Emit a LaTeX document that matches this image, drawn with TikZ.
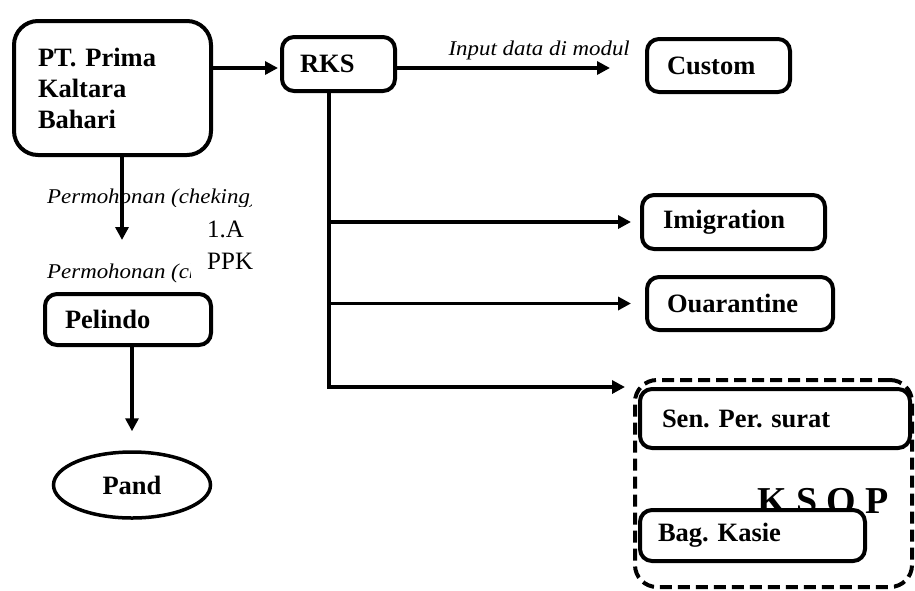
\documentclass[tikz,border=0pt]{standalone}
\usepackage{fontspec}
\setmainfont{Liberation Serif}
\newfontfamily\labelfont[FakeStretch=1.09]{Liberation Serif}
\usetikzlibrary{arrows.meta,shapes.geometric}
\frenchspacing
\tikzset{
  box/.style={draw,line width=4pt,rounded corners=12pt,align=left,
    font=\bfseries\fontsize{26.5}{31}\selectfont},
  group/.style={draw,dash pattern=on 12pt off 6pt,line width=4pt,
    rounded corners=22pt},
  flow/.style={line width=3.5pt,->},
  note/.style={inner sep=0pt,font=\labelfont\itshape\fontsize{21}{24}\selectfont}
}

\begin{document}
\begin{tikzpicture}[x=1pt,y=-1pt,>={Triangle[length=13pt,width=13pt]}]
\path[use as bounding box] (0,0) rectangle (915,590);
% left column
\node[box,rounded corners=24pt,text width=149pt,inner xsep=24pt,
  minimum height=134pt] (pt) at (112.5,88) {PT. Prima\\Kaltara\\Bahari};
\node[box,text width=126pt,inner xsep=20pt,minimum height=51pt]
  (pelindo) at (128,319.5) {Pelindo};
\node[draw,ellipse,line width=3.5pt,minimum width=157pt,minimum height=66pt,
  font=\bfseries\fontsize{26.5}{31}\selectfont] (pand) at (132,485) {Pand};
\begin{scope}
\clip (40,180) rectangle (251,206);
\node[note,anchor=base west] (req1) at (47,203) {Permohonan (cheking)};
\end{scope}
\begin{scope}
\clip (40,255) rectangle (190,290);
\node[note,anchor=base west] (req2) at (47,278) {Permohonan (che};
\end{scope}
\node[anchor=north west,inner sep=0pt,align=left,
  font=\fontsize{25}{32}\selectfont] (ppk) at (207,221) {1.A\\PPK};
% right column
\node[box,text width=77pt,inner xsep=18pt,minimum height=54pt]
  (rks) at (338.5,64) {RKS};
\node[box,text width=103pt,inner xsep=20pt,minimum height=53pt]
  (custom) at (718.5,65.5) {Custom};
\node[box,text width=141pt,inner xsep=21pt,minimum height=54pt]
  (imig) at (733.5,222) {Imigration};
\node[box,text width=146pt,inner xsep=20pt,minimum height=53pt]
  (quar) at (740,303.5) {Ouarantine};
\node[group,minimum width=277pt,minimum height=207pt] (ksop) at (773.5,483.5) {};
\node[font=\bfseries\fontsize{38}{40}\selectfont,anchor=base west,inner sep=0pt]
  (ksoplbl) at (757,513) {K S O P};
\node[box,fill=white,text width=226pt,inner xsep=22pt,minimum height=59pt]
  (sen) at (775,418.5) {Sen. Per. surat};
\node[box,fill=white,text width=189pt,inner xsep=18pt,minimum height=51pt]
  (bag) at (752.5,535.5) {Bag. Kasie};
\node[note,anchor=base east] (inputlbl) at (630,55) {Input data di modul};
% connectors
\coordinate (rksin) at ([yshift=-4pt]rks.west);
\coordinate (trunk) at (329,387);
\coordinate (ksoptip) at (625,387);
\coordinate (reqtip) at (122,240);
\draw[flow,shorten >=2pt] (pt.east |- rksin) -- (rksin);
\draw[flow,shorten >=35pt] (rks.east |- rksin) -- (custom.west |- rksin);
\draw[flow,line width=4pt] (rks.south -| trunk) |- (ksoptip);
\draw[flow,shorten >=9pt] (trunk |- imig.west) -- (imig.west);
\draw[flow,shorten >=14pt] (trunk |- quar.west) -- (quar.west);
\draw[flow] (pt.south -| reqtip) -- (reqtip);
\draw[flow,shorten >=19pt] (pelindo.south -| pand.north) -- (pand.north);
\end{tikzpicture}
\end{document}
